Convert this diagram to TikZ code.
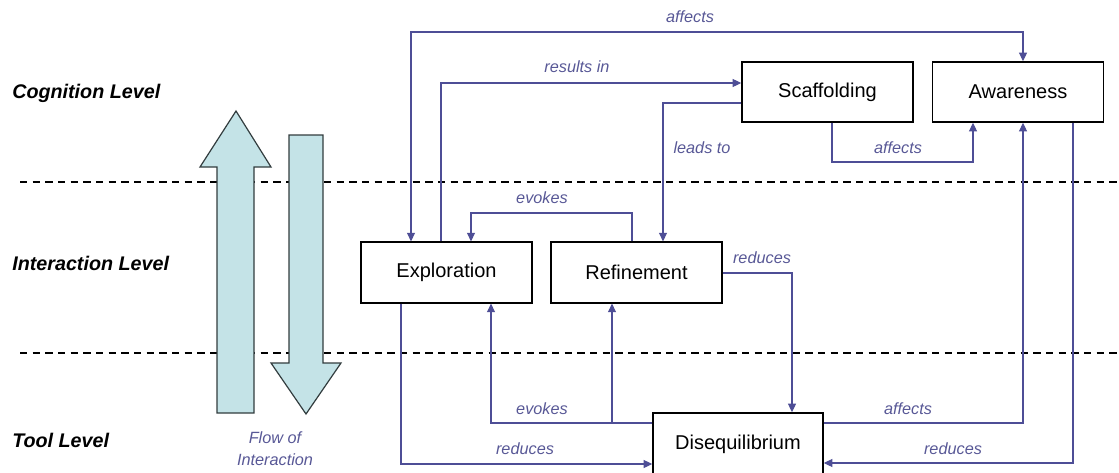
\documentclass[tikz,border=0pt]{standalone}
\usepackage{fontspec}
\setmainfont{Liberation Sans}
\usetikzlibrary{arrows.meta}

\definecolor{linkcol}{RGB}{78,78,150}
\definecolor{labelcol}{RGB}{88,88,150}
\definecolor{flowfill}{RGB}{196,227,231}
\definecolor{flowline}{RGB}{50,60,62}

\tikzset{
  box/.style={draw=black, line width=1.1pt, fill=white, inner sep=0pt,
    minimum width=128.25pt, minimum height=45.5pt, font=\fontsize{15}{18}\selectfont},
  link/.style={draw=linkcol, line width=0.8pt, line join=miter},
  tip/.style={-{Triangle[length=6.5pt,width=6pt]}},
  edgelabel/.style={text=labelcol, font=\fontsize{12.2}{14}\itshape, inner sep=0pt},
  levellabel/.style={font=\fontsize{14.8}{17}\bfseries\itshape, anchor=west, inner sep=0pt},
  levelsep/.style={draw=black, line width=0.8pt, dash pattern=on 5.5pt off 4pt},
  flowarrow/.style={fill=flowfill, draw=flowline, line width=0.9pt, line join=miter}
}

\begin{document}
\begin{tikzpicture}[x=0.75pt,y=-0.75pt]
  \useasboundingbox (0,0) rectangle (1119,472);

  % level separators
  \draw[levelsep] (20,182) -- (1119,182);
  \draw[levelsep] (20,353) -- (1119,353);

  % level names
  \node[levellabel] (cog) at (12,93) {Cognition Level};
  \node[levellabel] (int) at (12,263) {Interaction Level};
  \node[levellabel] (tool) at (12,440) {Tool Level};

  % flow of interaction arrows
  \draw[flowarrow] (217,413) -- (217,167) -- (200,167) -- (236,111) -- (271,167)
                   -- (254,167) -- (254,413) -- cycle;
  \draw[flowarrow] (289,135) -- (323,135) -- (323,363) -- (341,363) -- (306,414)
                   -- (271,363) -- (289,363) -- cycle;
  \node[edgelabel, align=center, font=\fontsize{12.2}{16.5}\itshape] (flow) at (275,449)
    {Flow of\\Interaction};

  % concept boxes
  \node[box, minimum height=45pt] (scaf)   at (827.5,92)  {Scaffolding};
  \node[box, minimum height=45pt] (aware)  at (1018,92)   {Awareness};
  \node[box] (explor) at (446.5,272.5) {Exploration};
  \node[box] (refine) at (636.5,272.5) {Refinement};
  \node[box, minimum width=127.5pt, minimum height=47.25pt] (diseq) at (738,444.5) {Disequilibrium};

  % bend points
  \coordinate (a1) at (411,32);
  \coordinate (a2) at (1023,32);
  \coordinate (r1) at (441,83);
  \coordinate (l1) at (663,103);
  \coordinate (s1) at (832,162);
  \coordinate (s2) at (973,162);
  \coordinate (e1) at (632,213);
  \coordinate (e2) at (471,213);
  \coordinate (d1) at (792,273);
  \coordinate (v1) at (491,423);
  \coordinate (v2) at (612,423);
  \coordinate (b1) at (401,464);
  \coordinate (f1) at (1023,423);
  \coordinate (g1) at (1073,463);

  % connectors
  \draw[link, {Triangle[length=6.5pt,width=6pt]}-{Triangle[length=6.5pt,width=6pt]}]
    (a1 |- explor.north) -- (a1) -- (a2) -- (a2 |- aware.north);
  \draw[link, tip] (r1 |- explor.north) -- (r1) -- (r1 -| scaf.west);
  \draw[link, tip] (l1 -| scaf.west) -- (l1) -- (l1 |- refine.north);
  \draw[link, tip] (s1 |- scaf.south) -- (s1) -- (s2) -- (s2 |- aware.south);
  \draw[link, tip] (e1 |- refine.north) -- (e1) -- (e2) -- (e2 |- explor.north);
  \draw[link, tip] (d1 -| refine.east) -- (d1) -- (d1 |- diseq.north);
  \draw[link, tip] (v1 -| diseq.west) -- (v1) -- (v1 |- explor.south);
  \draw[link, tip] (v2) -- (v2 |- refine.south);
  \draw[link, tip] (b1 |- explor.south) -- (b1) -- (b1 -| diseq.west);
  \draw[link, tip] (f1 -| diseq.east) -- (f1) -- (f1 |- aware.south);
  \draw[link, tip] (g1 |- aware.south) -- (g1) -- (g1 -| diseq.east);

  % connector labels
  \node[edgelabel] (laff1) at (690,17)  {affects};
  \node[edgelabel] (lres)  at (577,67)  {results in};
  \node[edgelabel] (llead) at (702,148) {leads to};
  \node[edgelabel] (laff2) at (898,148) {affects};
  \node[edgelabel] (lev1)  at (542,198) {evokes};
  \node[edgelabel] (lred1) at (762,258) {reduces};
  \node[edgelabel] (lev2)  at (542,409) {evokes};
  \node[edgelabel] (lred2) at (525,449) {reduces};
  \node[edgelabel] (laff3) at (908,409) {affects};
  \node[edgelabel] (lred3) at (953,449) {reduces};
\end{tikzpicture}
\end{document}
